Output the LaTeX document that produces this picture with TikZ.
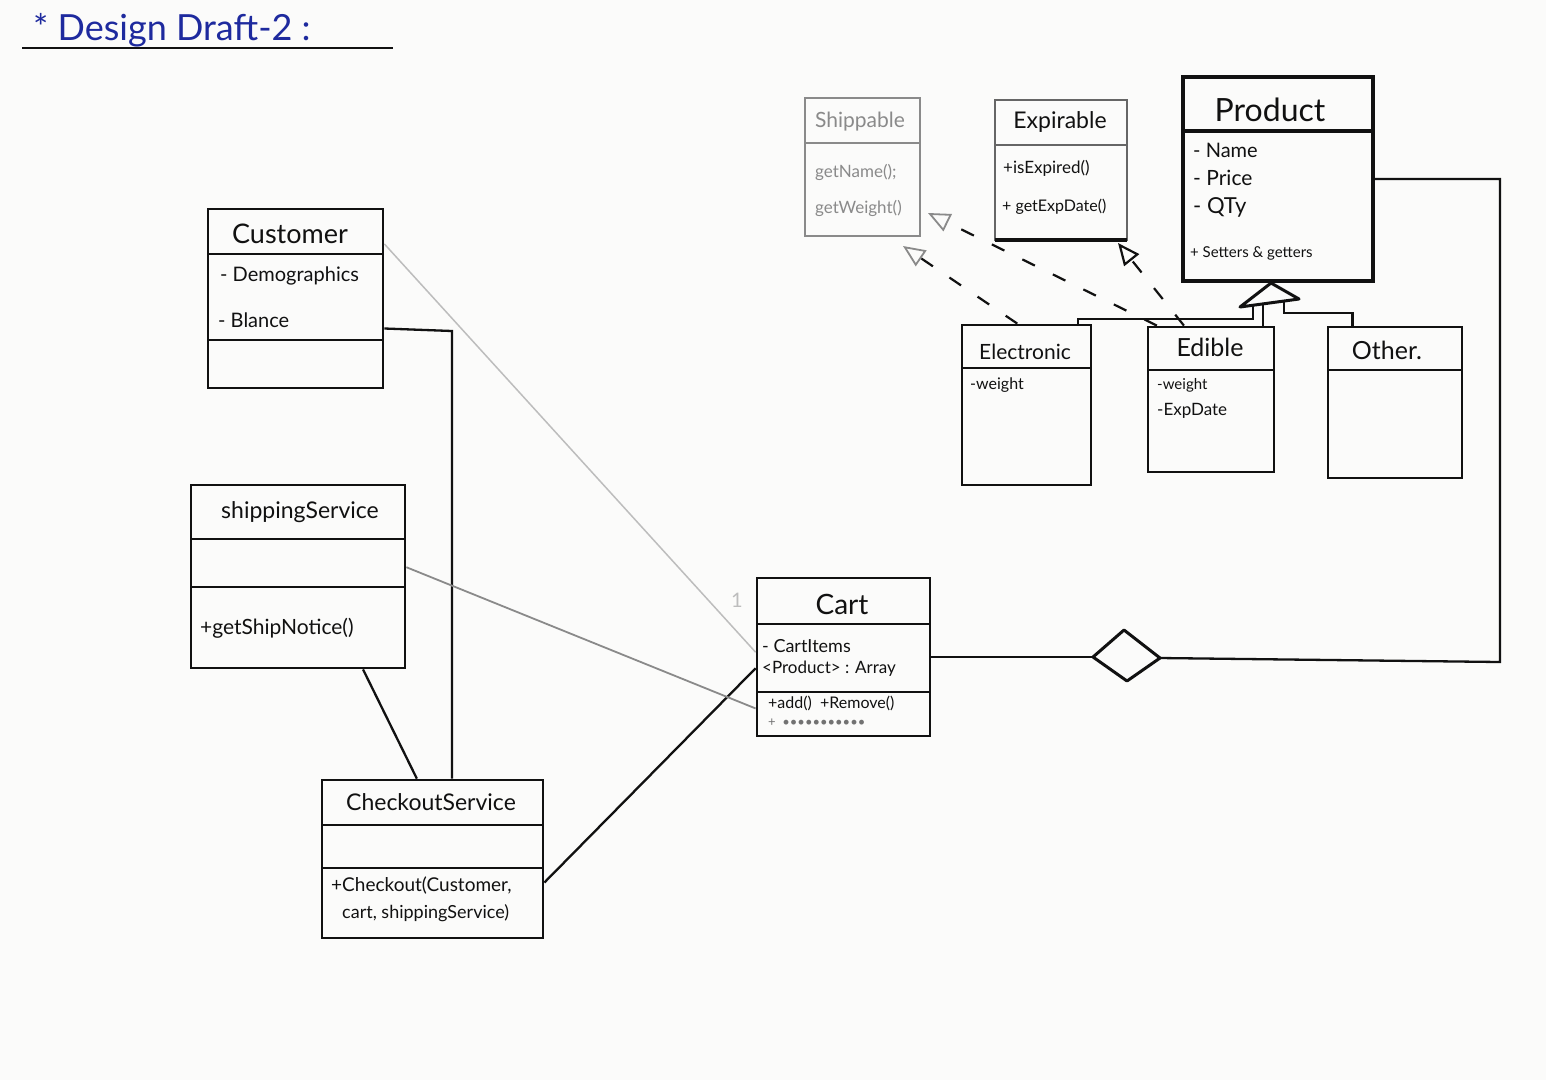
\documentclass[tikz,border=0pt]{standalone}
\usepackage{fontspec}
\setmainfont{Lato}
\usetikzlibrary{arrows.meta,fit,calc}

\definecolor{paper}{HTML}{FBFBFA}
\definecolor{ink}{HTML}{111111}
\definecolor{pencil}{HTML}{8A8A8A}
\definecolor{faint}{HTML}{BDBDBD}
\definecolor{blueink}{HTML}{1E2A9E}

\newcommand{\fs}[1]{\fontsize{#1}{#1}\selectfont}

\begin{document}
\begin{tikzpicture}[x=1pt,y=-1pt,
  classbox/.style={draw=ink, line width=2.8pt, inner sep=0pt},
  divider/.style={draw=ink, line width=2.8pt},
  ttl/.style={text=ink, inner sep=0pt, anchor=center},
  attr/.style={text=ink, inner sep=0pt, anchor=west},
  assoc/.style={draw=ink, line width=2.3pt},
  realize/.style={draw=ink, line width=2.2pt, dash pattern=on 14pt off 20pt,
    -{Triangle[open, length=22pt, width=19pt, line width=2.2pt]}},
  realizegray/.style={realize,
    -{Triangle[open, length=22pt, width=19pt, line width=1.8pt, color=pencil]}},
]
\fill[paper] (0,0) rectangle (1546,1080);
\useasboundingbox (0,0) rectangle (1546,1080);

% heading
\node[anchor=west, text=blueink, inner sep=0pt, font=\fs{36}] (heading) at (33,30) {* Design Draft-2 :};
\coordinate (ulA) at (22,48);
\coordinate (ulB) at (393,48);
\draw[ink, line width=2.2pt] (ulA) -- (ulB);

% ---------- Customer ----------
\node[classbox, fit={(208,209)(383,388)}] (cust) {};
\draw[divider] (208,254) -- (383,254);
\draw[divider] (208,340) -- (383,340);
\node[ttl, font=\fs{27}] (custT) at (290,234) {Customer};
\node[attr, font=\fs{20}] (custA1) at (220,276) {- Demographics};
\node[attr, font=\fs{20}] (custA2) at (218,320) {- Blance};

% ---------- ShippingService ----------
\node[classbox, fit={(191,485)(405,668)}] (ship) {};
\draw[divider] (191,539) -- (405,539);
\draw[divider] (191,587) -- (405,587);
\node[ttl, font=\fs{23}] (shipT) at (300,512) {shippingService};
\node[attr, font=\fs{21}] (shipM) at (200,628) {+getShipNotice()};

% ---------- CheckoutService ----------
\node[classbox, fit={(322,780)(543,938)}] (chk) {};
\draw[divider] (322,825) -- (543,825);
\draw[divider] (322,868) -- (543,868);
\node[ttl, font=\fs{23}] (chkT) at (431,802) {CheckoutService};
\node[attr, font=\fs{19}] (chkM1) at (331,886) {+Checkout(Customer,};
\node[attr, font=\fs{18}] (chkM2) at (342,913) {cart, shippingService)};

% ---------- Cart ----------
\node[classbox, fit={(757,578)(930,736)}] (cart) {};
\draw[divider] (757,624) -- (930,624);
\draw[divider] (757,692) -- (930,692);
\node[ttl, font=\fs{28}] (cartT) at (842,604) {Cart};
\node[attr, font=\fs{18}] (cartA1) at (762,646) {- CartItems};
\node[attr, font=\fs{17}] (cartA2) at (762,669) {<Product> : Array};
\node[attr, font=\fs{16}] (cartM1) at (768,703) {+add()\ \ +Remove()};
\node[attr, font=\fs{13}, text=pencil!80!ink] (cartM2) at (768,723) {+\ \ •••••••••••};

% ---------- Shippable (pencil) ----------
\node[classbox, draw=pencil, line width=1.8pt, fit={(805,98)(920,236)}] (shp) {};
\draw[pencil, line width=1.8pt] (805,143) -- (920,143);
\node[ttl, text=pencil, font=\fs{21}] (shpT) at (860,122) {Shippable};
\node[attr, text=pencil, font=\fs{17}] (shpM1) at (815,172) {getName();};
\node[attr, text=pencil, font=\fs{17}] (shpM2) at (815,208) {getWeight()};

% ---------- Expirable ----------
\node[classbox, draw=pencil!70!ink, line width=2.3pt, fit={(995,100)(1127,240)}] (exp) {};
\draw[pencil!70!ink, line width=2.3pt] (995,145) -- (1127,145);
\draw[ink, line width=3.2pt] (995,240) -- (1127,240);
\node[ttl, font=\fs{23}] (expT) at (1060,122) {Expirable};
\node[attr, font=\fs{17}] (expM1) at (1003,168) {+isExpired()};
\node[attr, font=\fs{16}] (expM2) at (1002,207) {+ getExpDate()};

% ---------- Product ----------
\node[classbox, line width=3.2pt, fit={(1183,77)(1373,281)}] (prod) {};
\draw[divider, line width=3.2pt] (1183,131) -- (1373,131);
\node[ttl, font=\fs{32}] (prodT) at (1270,110) {Product};
\node[attr, font=\fs{20}] (prodA1) at (1193,150) {- Name};
\node[attr, font=\fs{21}] (prodA2) at (1193,178) {- Price};
\node[attr, font=\fs{22}] (prodA3) at (1193,207) {- QTy};
\node[attr, font=\fs{15}] (prodM) at (1190,253) {+ Setters \& getters};

% ---------- Electronic / Edible / Other ----------
\node[classbox, fit={(962,325)(1091,485)}] (elec) {};
\draw[divider] (962,368) -- (1091,368);
\node[ttl, font=\fs{21}] (elecT) at (1025,352) {Electronic};
\node[attr, font=\fs{16}] (elecA) at (970,385) {-weight};

\node[classbox, fit={(1148,327)(1274,472)}] (edib) {};
\draw[divider] (1148,370) -- (1274,370);
\node[ttl, font=\fs{25}] (edibT) at (1210,347) {Edible};
\node[attr, font=\fs{15}] (edibA1) at (1157,385) {-weight};
\node[attr, font=\fs{17}] (edibA2) at (1157,411) {-ExpDate};

\node[classbox, fit={(1328,327)(1462,478)}] (oth) {};
\draw[divider] (1328,370) -- (1462,370);
\node[ttl, font=\fs{25}] (othT) at (1387,350) {Other.};

% ---------- generalisation to Product ----------
\coordinate (gTip) at (1271,283);
\coordinate (gL) at (1240,307);
\coordinate (gR) at (1299,299);
\draw[ink, line width=3pt, line join=round] (gTip) -- (gL) -- (gR) -- cycle;
\coordinate (b1) at (1253,306);
\coordinate (b2) at (1263,305);
\coordinate (b3) at (1284,302);
\coordinate (elecTop) at ($(elec.north west)!0.89!(elec.north east)$);
\coordinate (othTop) at ($(oth.north west)!0.19!(oth.north east)$);
\draw[assoc] (b1) -- ++(0,13) -| (elecTop);
\draw[assoc] (b2) -- (b2 |- edib.north);
\draw[assoc] (b3) -- ++(0,11) -| (othTop);

% ---------- interface realisations ----------
\coordinate (shpTipA) at (903,246);
\coordinate (shpTipB) at (928,213);
\coordinate (expTip) at (1118,243);
\draw[realizegray] ($(elec.north west)!0.43!(elec.north east)$) -- (shpTipA);
\draw[realizegray] ($(edib.north west)!0.08!(edib.north east)$) -- (shpTipB);
\draw[realize] ($(edib.north west)!0.29!(edib.north east)$) -- (expTip);

% ---------- associations ----------
\coordinate (custBend) at (452,331);
\draw[assoc] ($(cust.north east)!0.665!(cust.south east)$) -- (custBend) -- (custBend |- chk.north);
\draw[assoc] ($(ship.south west)!0.80!(ship.south east)$) -- ($(chk.north west)!0.43!(chk.north east)$);
\draw[assoc] ($(chk.north east)!0.646!(chk.south east)$) -- ($(cart.north west)!0.57!(cart.south west)$);
\draw[faint, line width=1.5pt] ($(cust.north east)!0.2!(cust.south east)$) -- ($(cart.north west)!0.47!(cart.south west)$);
\draw[pencil, line width=1.8pt] ($(ship.north east)!0.45!(ship.south east)$) -- ($(cart.north west)!0.82!(cart.south west)$);
\node[text=faint, font=\fs{20}, inner sep=0pt] (mult) at (737,600) {1};

% ---------- aggregation Cart <>-- Product ----------
\coordinate (dL) at (1093,657);
\coordinate (dT) at (1124,630);
\coordinate (dR) at (1160,658);
\coordinate (dB) at (1127,681);
\coordinate (aggBend) at (1500,662);
\draw[assoc] (cart.east) -- (dL);
\draw[ink, line width=3pt, line join=round] (dL) -- (dT) -- (dR) -- (dB) -- cycle;
\draw[assoc] (dR) -- (aggBend) |- (prod.east);

\end{tikzpicture}
\end{document}
